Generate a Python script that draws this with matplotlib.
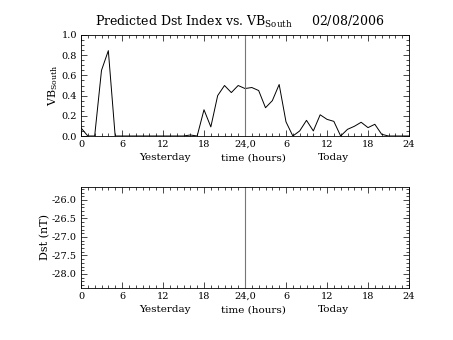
import numpy as np
import matplotlib
matplotlib.use("Agg")
import matplotlib.pyplot as plt
from matplotlib.ticker import MultipleLocator

plt.rcParams["font.family"] = "DejaVu Serif"
plt.rcParams["mathtext.fontset"] = "custom"
plt.rcParams["mathtext.rm"] = "DejaVu Serif"
plt.rcParams["mathtext.it"] = "DejaVu Serif"

# hourly VB_south over yesterday (0-24) and today (24-48)
hours = np.arange(0, 49)
vb_south = [0.08, 0.0, 0.0, 0.65, 0.845, 0.0, 0.0, 0.0, 0.0, 0.0,
            0.0, 0.0, 0.0, 0.0, 0.0, 0.0, 0.01, 0.0, 0.26, 0.09,
            0.40, 0.50, 0.43, 0.50, 0.47, 0.48, 0.45, 0.28, 0.35, 0.51,
            0.14, 0.0, 0.05, 0.155, 0.05, 0.21, 0.165, 0.145, 0.0, 0.066,
            0.096, 0.136, 0.083, 0.116, 0.017, 0.0, 0.0, 0.0, 0.0]

x_ticks = [0, 6, 12, 18, 24, 30, 36, 42, 48]
x_ticklabels = ["0", "6", "12", "18", "24,0", "6", "12", "18", "24"]
date_str = "02/08/2006"

W, H = 453, 340
fig = plt.figure(figsize=(W / 100, H / 100), dpi=100)
ax1 = fig.add_axes([81 / W, 1 - 136 / H, 328 / W, 101 / H])
ax2 = fig.add_axes([81 / W, 1 - 288 / H, 328 / W, 101 / H])


def style_axis(ax):
    ax.set_xlim(0, 48)
    ax.set_xticks(x_ticks)
    ax.set_xticklabels(x_ticklabels)
    ax.xaxis.set_minor_locator(MultipleLocator(1))
    ax.tick_params(which="both", direction="in", top=True, right=True,
                   width=0.5, labelsize=7, pad=3)
    ax.tick_params(which="major", length=4)
    ax.tick_params(which="minor", length=2)
    for s in ax.spines.values():
        s.set_linewidth(0.6)
    ax.axvline(24, color="#777777", lw=0.8)
    for xd, txt in [(12.3, "Yesterday"), (25.2, "time (hours)"), (37.0, "Today")]:
        ax.annotate(txt, xy=(xd, 0), xycoords=("data", "axes fraction"),
                    xytext=(0, -17.5), textcoords="offset points",
                    ha="center", va="baseline", fontsize=7.5)


# top: VB south
ax1.plot(hours, vb_south, color="black", lw=0.7)
ax1.set_ylim(0, 1.0)
ax1.yaxis.set_major_locator(MultipleLocator(0.2))
ax1.yaxis.set_minor_locator(MultipleLocator(0.05))
ax1.yaxis.set_major_formatter(plt.FormatStrFormatter("%.1f"))
ax1.set_ylabel(r"VB$_{\mathrm{South}}$", fontsize=8, labelpad=1)
style_axis(ax1)

# bottom: predicted Dst (no values available)
ax2.set_ylim(-28.38, -25.65)
ax2.yaxis.set_major_locator(MultipleLocator(0.5))
ax2.yaxis.set_minor_locator(MultipleLocator(0.1))
ax2.yaxis.set_major_formatter(plt.FormatStrFormatter("%.1f"))
ax2.set_ylabel("Dst (nT)", fontsize=8, labelpad=1)
style_axis(ax2)

fig.text(240 / W, 1 - 22 / H,
         r"Predicted Dst Index vs. VB$_{\mathrm{South}}$     " + date_str,
         ha="center", va="center", fontsize=9)

fig.savefig("out.png", dpi=100)
